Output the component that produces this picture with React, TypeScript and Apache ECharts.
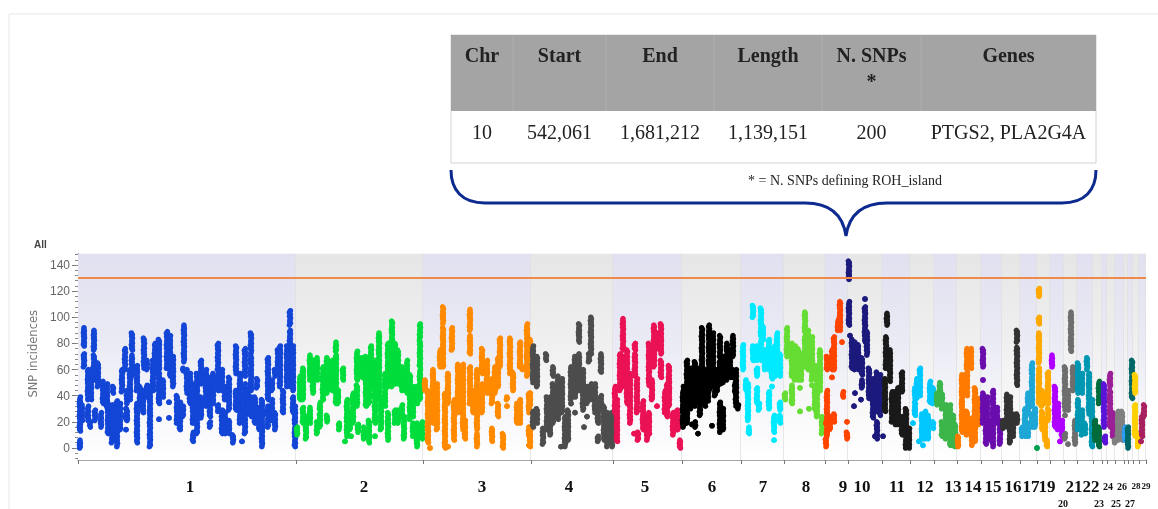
import React, { useEffect, useRef } from "react";
import * as echarts from "echarts";

type Span = [number, number, number];

// Chromosome boundaries along the genome axis
const chrEdges = [78, 296, 423, 531, 613, 682, 741, 784, 825, 848, 882, 910, 934, 957, 981, 1002, 1020, 1037, 1050, 1064, 1077, 1093, 1102, 1107, 1115, 1124, 1128, 1133, 1139, 1146];
const threshold = 130.5;
const yTicks = [0, 20, 40, 60, 80, 100, 120, 140];
const yMinorTicks = [-8, -4, 0, 4, 8, 12, 16, 20, 24, 28, 32, 36, 40, 44, 48, 52, 56, 60, 64, 68, 72, 76, 80, 84, 88, 92, 96, 100, 104, 108, 112, 116, 120, 124, 128, 132, 136, 140, 144, 148];

// [position, lowest SNP incidence, highest SNP incidence] of each run of points
const chr1: Span[] = [[80,20,39],[80,13,19],[80,0,6],[84,78,92],[84,62,72],[82,21,33],[88,37,60],[88,21,32],[91,37,60],[94,75,90],[94,52,71],[98,47,65],[90,16,20],[95,21,29],[101,16,27],[103,34,51],[107,32,49],[108,11,34],[112,4,33],[113,42,47],[117,1,36],[120,14,34],[126,14,14],[126,30,30],[126,22,26],[122,43,60],[125,60,76],[127,34,44],[127,21,29],[132,75,88],[132,55,71],[130,37,60],[137,44,63],[137,4,34],[140,32,47],[144,61,84],[143,27,44],[147,60,67],[147,39,48],[150,1,47],[153,44,67],[155,57,80],[159,60,83],[159,34,57],[159,22,22],[163,39,52],[167,61,89],[170,55,86],[173,47,70],[169,23,23],[169,35,35],[177,19,40],[180,14,35],[183,24,32],[183,59,61],[184,66,94],[187,42,60],[190,34,57],[193,19,49],[193,5,12],[197,11,57],[201,49,67],[201,23,39],[206,32,60],[210,24,54],[210,16,20],[213,34,57],[218,60,80],[218,44,57],[218,28,33],[222,44,60],[222,11,29],[225,37,47],[225,11,27],[229,29,54],[229,11,21],[233,4,10],[236,57,78],[236,29,44],[240,19,57],[245,55,76],[245,11,49],[242,5,5],[251,72,88],[251,44,70],[251,24,39],[248,27,44],[255,19,39],[257,46,53],[259,14,31],[262,1,14],[262,14,37],[268,37,69],[268,16,32],[265,27,27],[272,44,52],[272,21,37],[275,14,27],[275,55,60],[278,62,75],[280,47,78],[283,27,44],[290,94,105],[290,47,90],[287,47,78],[293,44,78],[293,27,39],[295,19,32],[295,1,17]];
const chr2: Span[] = [[297,10,16],[300,37,55],[303,37,61],[303,19,31],[306,7,24],[310,19,31],[310,52,71],[313,42,67],[317,52,69],[317,11,20],[320,29,35],[320,16,27],[323,37,62],[327,42,69],[327,20,25],[332,44,67],[336,74,81],[336,34,71],[338,34,44],[343,52,61],[339,14,19],[347,9,37],[345,5,5],[350,14,27],[351,9,9],[353,19,42],[357,52,74],[357,32,48],[358,12,18],[362,54,69],[364,7,16],[366,32,70],[369,34,49],[369,4,21],[367,34,55],[371,47,78],[375,19,67],[375,9,9],[379,37,88],[381,14,37],[385,32,57],[388,47,80],[388,6,27],[392,78,97],[392,47,76],[395,49,80],[395,19,29],[398,49,75],[398,19,29],[402,44,62],[402,24,33],[404,7,24],[407,42,67],[410,22,56],[413,24,47],[413,9,19],[417,1,19],[417,34,47],[420,84,95],[420,62,82],[420,37,60],[422,7,20]];
const chr3: Span[] = [[425,44,52],[428,4,44],[430,0,0],[433,19,60],[437,14,49],[440,62,75],[443,95,108],[443,62,92],[445,0,42],[448,34,57],[448,1,1],[452,75,92],[454,6,37],[458,27,64],[463,14,64],[465,7,21],[470,90,106],[470,72,86],[470,34,62],[473,27,44],[477,1,11],[477,14,60],[482,57,76],[482,27,49],[487,42,67],[492,34,53],[492,5,15],[495,42,62],[498,47,69],[498,24,34],[500,62,84],[503,0,11],[507,37,39],[507,32,32],[510,57,84],[513,44,58],[517,19,34],[520,62,81],[520,19,37],[523,60,62],[527,82,95],[527,55,80],[529,27,42],[529,9,16],[529,2,2],[530,70,83],[530,32,42],[530,1,16]];
const chr4: Span[] = [[533,50,78],[533,16,28],[537,47,70],[537,19,30],[543,3,15],[546,67,72],[547,14,39],[550,10,39],[553,55,62],[553,19,49],[558,22,55],[562,27,53],[561,1,1],[565,1,24],[568,6,29],[571,34,34],[571,37,62],[575,39,70],[575,27,27],[579,81,95],[579,44,72],[583,29,60],[584,16,16],[587,34,47],[587,24,24],[589,66,72],[591,72,100],[591,37,49],[595,27,49],[598,19,34],[598,5,9],[601,58,72],[601,29,40],[604,6,32],[607,1,27],[612,1,27]];
const chr5: Span[] = [[615,27,47],[617,5,37],[620,44,72],[623,75,99],[623,47,70],[627,34,75],[630,19,57],[635,55,72],[635,75,80],[637,27,53],[634,11,11],[638,6,12],[643,14,36],[647,6,24],[649,48,80],[649,11,27],[652,37,52],[654,72,94],[654,62,72],[657,76,88],[657,32,32],[661,72,95],[661,54,67],[665,27,44],[669,44,63],[669,32,47],[667,24,49],[673,10,27],[677,14,29],[680,0,6],[678,14,24]];
const chr6: Span[] = [[683,16,44],[687,34,67],[687,19,34],[684,27,47],[692,34,61],[692,18,18],[695,32,66],[695,16,20],[698,42,61],[698,11,11],[702,66,92],[702,39,65],[705,32,60],[709,70,94],[709,44,67],[713,47,88],[712,17,17],[717,44,60],[720,70,86],[720,49,67],[720,12,35],[723,14,30],[726,52,67],[733,70,86],[730,54,75],[733,54,60],[735,42,49],[738,30,33],[736,32,44],[690,30,55],[700,25,45],[708,36,50],[715,40,60],[727,60,80],[723,50,70],[736,45,60]];
const chr7: Span[] = [[743,60,79],[746,44,52],[748,21,49],[749,11,16],[753,100,109],[753,67,78],[757,67,78],[757,55,61],[757,34,46],[761,86,107],[761,67,83],[759,29,34],[763,83,93],[769,60,83],[769,30,43],[772,53,76],[772,47,47],[775,55,78],[777,65,88],[774,12,25],[774,6,6],[780,29,35],[780,19,25],[765,60,75],[780,55,72]];
const chr8: Span[] = [[787,70,92],[785,37,42],[792,55,80],[792,34,48],[795,52,78],[798,52,76],[800,28,28],[800,46,46],[805,88,104],[805,62,85],[808,60,90],[812,52,85],[812,48,48],[809,30,30],[815,57,63],[815,29,47],[817,24,57],[820,44,75],[822,11,24],[801,52,72]];
const chr9: Span[] = [[826,1,8],[826,19,19],[827,9,44],[827,60,70],[830,14,24],[832,60,75],[832,54,54],[834,60,85],[834,20,26],[838,90,98],[840,90,112],[842,81,81],[843,39,43],[847,20,20],[847,7,12]];
const chr10: Span[] = [[849,129,143],[849,94,112],[850,86,86],[852,61,83],[855,60,81],[858,60,79],[855,42,42],[854,32,32],[862,56,69],[862,46,52],[861,37,37],[865,114,114],[865,81,108],[867,71,89],[869,38,61],[873,23,53],[877,28,58],[877,7,20],[875,9,9],[880,25,56],[883,9,9]];
const chr11: Span[] = [[887,94,103],[885,28,53],[886,61,85],[890,51,75],[892,20,43],[895,18,43],[898,18,46],[902,43,58],[902,10,24],[906,0,30],[909,0,15]];
const chr12: Span[] = [[915,38,46],[915,25,35],[917,38,53],[920,40,61],[913,19,19],[922,7,26],[925,7,28],[928,7,25],[923,2,2],[919,5,5],[930,35,51],[933,34,46],[933,15,20]];
const chr13: Span[] = [[937,33,42],[940,35,50],[942,30,41],[942,9,20],[946,7,33],[950,2,33],[953,2,25],[955,1,18]];
const chr14: Span[] = [[958,1,9],[962,12,56],[967,61,76],[967,40,58],[967,10,28],[971,61,76],[972,2,23],[975,5,46],[978,18,38]];
const chr15: Span[] = [[983,62,76],[983,52,52],[983,19,42],[986,3,16],[987,16,39],[990,6,21],[993,21,44],[993,1,19],[997,19,31],[1000,3,21]];
const chr16: Span[] = [[1003,15,21],[1007,16,41],[1010,4,39],[1013,9,26],[1017,81,90],[1017,48,77],[1017,19,26]];
const chr17: Span[] = [[1022,9,16],[1025,9,30],[1028,26,42],[1028,9,19],[1032,32,65],[1032,16,26],[1035,16,30]];
const chr17b: Span[] = [[1037,0,0]];
const chr18: Span[] = [[1039,116,122],[1039,95,100],[1039,65,88],[1039,34,61],[1042,32,44],[1042,14,28],[1045,34,42],[1045,6,21],[1048,34,58],[1048,21,30],[1047,1,6]];
const chr19: Span[] = [[1052,62,71],[1055,16,47],[1058,14,34],[1062,9,21],[1060,5,5]];
const chr20: Span[] = [[1065,29,62],[1065,25,25],[1065,7,11],[1068,29,44],[1068,3,3],[1071,74,104],[1073,44,62],[1075,3,21]];
const chr21: Span[] = [[1078,42,65],[1078,30,37],[1078,14,28],[1082,42,57],[1082,10,29],[1085,11,19],[1087,60,69],[1089,26,57],[1092,1,37]];
const chr22: Span[] = [[1095,6,21],[1099,1,16],[1099,34,51]];
const chr24: Span[] = [[1104,16,49],[1105,4,9]];
const chr25: Span[] = [[1110,47,57],[1110,16,44],[1113,9,27]];
const chr26: Span[] = [[1118,6,28],[1122,6,28],[1115,4,6]];
const chr27: Span[] = [[1125,6,16]];
const chr28: Span[] = [[1128,0,16],[1132,38,67]];
const chr28b: Span[] = [[1135,42,56],[1135,9,33],[1138,1,11]];
const chr29: Span[] = [[1141,5,5],[1142,9,24],[1144,24,33]];

const chrSeries: [string, string, Span[]][] = [
  ["1", "#1346d6", chr1], ["2", "#00dd3c", chr2], ["3", "#ff8a00", chr3], ["4", "#4d4d4d", chr4],
  ["5", "#ea1255", chr5], ["6", "#000000", chr6], ["7", "#00eaff", chr7], ["8", "#66dd33", chr8],
  ["9", "#ff4400", chr9], ["10", "#1c1a7c", chr10], ["11", "#1a1a1a", chr11], ["12", "#00c8ff", chr12],
  ["13", "#3cb54a", chr13], ["14", "#ff7a00", chr14], ["15", "#6a0dad", chr15], ["16", "#333333", chr16],
  ["17", "#1ea7d6", chr17], ["17b", "#00a050", chr17b], ["18", "#ffa900", chr18], ["19", "#b000ff", chr19],
  ["20", "#6e6e6e", chr20], ["21", "#0097b2", chr21], ["22", "#006b3c", chr22], ["24", "#5a14d8", chr24],
  ["25", "#9b1f96", chr25], ["26", "#808080", chr26], ["27", "#2a9df4", chr27], ["28", "#006666", chr28],
  ["28b", "#ffd000", chr28b], ["29", "#a8205f", chr29],
];

// Labels under the axis
const chrLabels: [string, number][] = [["1",190],["2",364],["3",482],["4",569],["5",645],["6",712],["7",763],["8",806],["9",843],["10",862],["11",897],["12",925],["13",953],["14",973],["15",993],["16",1013],["17",1031],["19",1047],["21",1074],["22",1091],["24",1108],["26",1122],["28",1136],["29",1146]];
const chrLabelsLower: [string, number][] = [["20",1063],["23",1099],["25",1116],["27",1130]];
const midLabels = ["24", "26"];
const tinyLabels = ["28", "29"];

// Table above the chart
const tableHeaders = ["Chr", "Start", "End", "Length", "N. SNPs\n*", "Genes"];
const tableRow = ["10", "542,061", "1,681,212", "1,139,151", "200", "PTGS2, PLA2G4A"];
const tableNote = "* = N. SNPs defining ROH_island";
const columnEdges = [451, 513, 606, 714, 822, 921, 1096];

const BRACE = "M451 170 C451 190 462 203 485 203 L805 203 C830 203 843 215 846 236 C849 215 862 203 887 203 L1062 203 C1085 203 1096 190 1096 170";
echarts.graphic.registerShape("brace", echarts.graphic.extendPath(BRACE, {}) as any);

const serif = "'Liberation Serif', serif";
const wobble = [0, 0.5, -0.4, 0.3, -0.6, 0.4, -0.2];

function buildOption(): any {
  const yMin = -9.2;
  const yMax = 148.8;
  const bands = chrEdges.slice(0, -1).map((s, i) => [s, chrEdges[i + 1], i]);
  const grad = (top: string) => new echarts.graphic.LinearGradient(0, 0, 0, 1, [
    { offset: 0, color: top }, { offset: 0.45, color: top === "#e6e6e6" ? "#f0f0f0" : "#ebebf5" }, { offset: 1, color: "#ffffff" },
  ]);
  const bandFills = [grad("#e0e0f0"), grad("#e6e6e6")];

  const tableGraphics: any[] = [
    { type: "line", shape: { x1: 9, y1: 14, x2: 1158, y2: 14 }, style: { stroke: "#f3f3f3", lineWidth: 2 } },
    { type: "line", shape: { x1: 9, y1: 14, x2: 9, y2: 509 }, style: { stroke: "#f3f3f3", lineWidth: 2 } },
    { type: "rect", shape: { x: 451, y: 35, width: 645, height: 128 }, style: { fill: "#ffffff", stroke: "#d4d4d4", lineWidth: 1 } },
    { type: "rect", shape: { x: 451, y: 35, width: 645, height: 76 }, style: { fill: "#a4a4a4" } },
    { type: "brace", style: { fill: "none", stroke: "#0d2a8e", lineWidth: 3 } },
    { type: "text", x: 845, y: 180, style: { text: tableNote, font: `14px ${serif}`, fill: "#222", align: "center", verticalAlign: "middle" } },
    { type: "text", x: 34, y: 244, style: { text: "All", font: "bold 10px 'Liberation Sans'", fill: "#444", align: "left", verticalAlign: "middle" } },
  ];
  columnEdges.slice(1, -1).forEach((e) =>
    tableGraphics.push({ type: "line", shape: { x1: e, y1: 35, x2: e, y2: 111 }, style: { stroke: "#afafaf", lineWidth: 1 } })
  );
  tableHeaders.forEach((h, i) => {
    const x = (columnEdges[i] + columnEdges[i + 1]) / 2;
    h.split("\n").forEach((line, j) =>
      tableGraphics.push({ type: "text", x, y: 55 + j * 26, style: { text: line, font: `bold 20px ${serif}`, fill: "#222", align: "center", verticalAlign: "middle" } })
    );
    tableGraphics.push({ type: "text", x, y: 132, style: { text: tableRow[i], font: `20px ${serif}`, fill: "#222", align: "center", verticalAlign: "middle" } });
  });

  return {
    animation: false,
    grid: { left: 78, right: 12, top: 253.5, bottom: 49, containLabel: false },
    xAxis: [
      {
        type: "value", min: 78, max: 1146, splitLine: { show: false },
        axisLine: { show: true, onZero: false, lineStyle: { color: "#8a8a8a", width: 1.5 } },
        axisTick: { show: true, customValues: chrEdges, length: 4, lineStyle: { color: "#777" } },
        axisLabel: {
          show: true, hideOverlap: false, customValues: chrLabels.map((d) => d[1]), margin: 17, showMinLabel: true, showMaxLabel: true,
          formatter: (v: number) => {
            const f = chrLabels.find((d) => d[1] === v);
            if (!f) return "";
            const k = midLabels.includes(f[0]) ? "m" : tinyLabels.includes(f[0]) ? "s" : "b";
            return `{${k}|${f[0]}}`;
          },
          rich: {
            b: { fontFamily: "Liberation Serif", fontWeight: "bold", fontSize: 17, lineHeight: 18, color: "#111" },
            m: { fontFamily: "Liberation Serif", fontWeight: "bold", fontSize: 10, lineHeight: 18, color: "#111" },
            s: { fontFamily: "Liberation Serif", fontWeight: "bold", fontSize: 9, lineHeight: 18, color: "#111" },
          },
        },
      },
      {
        type: "value", min: 78, max: 1146, position: "bottom", splitLine: { show: false },
        axisLine: { show: false }, axisTick: { show: false },
        axisLabel: {
          show: true, hideOverlap: false, customValues: chrLabelsLower.map((d) => d[1]), margin: 38, showMinLabel: true, showMaxLabel: true,
          formatter: (v: number) => (chrLabelsLower.find((d) => d[1] === v) || ["", 0])[0],
          fontFamily: "Liberation Serif", fontWeight: "bold", fontSize: 10, color: "#111",
        },
      },
    ],
    yAxis: [
      {
        type: "value", min: yMin, max: yMax, splitLine: { show: false },
        name: "SNP incidences", nameLocation: "middle", nameGap: 30,
        nameTextStyle: { fontFamily: "DejaVu Sans", fontSize: 11.5, color: "#777", padding: [0, 0, 0, 6] },
        axisLine: { show: true, onZero: false, lineStyle: { color: "#777" } },
        axisTick: { show: true, customValues: yTicks, length: 6, lineStyle: { color: "#777" } },
        axisLabel: { show: true, customValues: yTicks, margin: 8, fontFamily: "Liberation Sans", fontSize: 12, color: "#666" },
      },
      {
        type: "value", min: yMin, max: yMax, position: "left", splitLine: { show: false },
        axisLine: { show: false }, axisLabel: { show: false },
        axisTick: { show: true, customValues: yMinorTicks, length: 3, lineStyle: { color: "#888" } },
      },
    ],
    series: [
      {
        type: "custom", name: "bands", silent: true, z: 1, clip: true, data: bands, encode: { x: [0, 1] },
        renderItem: (_p: any, api: any) => {
          const a = api.coord([api.value(0), yMax]);
          const b = api.coord([api.value(1), yMin]);
          const i = api.value(2);
          return {
            type: "group",
            children: [
              { type: "rect", shape: { x: a[0], y: a[1], width: b[0] - a[0], height: b[1] - a[1] }, style: { fill: bandFills[i % 2] } },
              { type: "rect", shape: { x: b[0] - 0.75, y: a[1], width: 1.5, height: b[1] - a[1] }, style: { fill: "#e0e0e0" } },
            ],
          };
        },
        markLine: {
          silent: true, symbol: "none", animation: false, z: 8, label: { show: false },
          lineStyle: { color: "#f08a4b", width: 2, type: "solid" }, data: [{ yAxis: threshold }],
        },
      },
      ...chrSeries.map(([name, color, spans]) => ({
        type: "custom", name: "Chr " + name, z: 3, clip: false, data: spans, encode: { x: 0, y: [1, 2] },
        itemStyle: { color },
        renderItem: (p: any, api: any) => {
          const lo = api.coord([api.value(0), api.value(1)]);
          const hi = api.coord([api.value(0), api.value(2)]);
          const h = lo[1] - hi[1];
          const n = Math.max(1, Math.round(h / 1.7));
          const children: any[] = [];
          for (let i = 0; i <= n; i++) {
            const w = h === 0 ? 0 : wobble[(i + p.dataIndex) % wobble.length];
            children.push({ type: "circle", shape: { cx: lo[0] + w, cy: lo[1] - (h * i) / n, r: 2.8 }, style: { fill: color } });
          }
          return { type: "group", children };
        },
      })),
    ],
    graphic: { elements: tableGraphics },
  };
}

export default function App() {
  const ref = useRef<HTMLDivElement>(null);
  useEffect(() => {
    document.body.style.margin = "0";
    const chart = echarts.init(ref.current!, undefined, { renderer: "svg" });
    chart.setOption(buildOption());
    return () => chart.dispose();
  }, []);
  return <div ref={ref} style={{ width: 1158, height: 509, background: "#fff", overflow: "hidden", filter: "blur(0.45px)" }} />;
}
